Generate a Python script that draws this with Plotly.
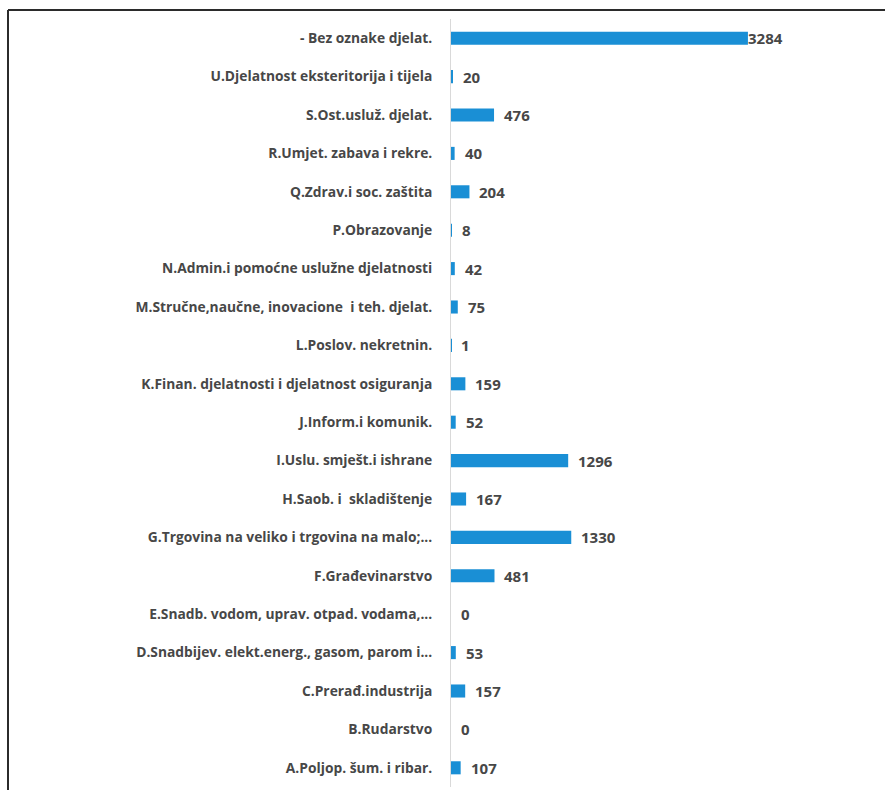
import plotly.graph_objects as go

# Activity sectors (top to bottom as shown) and the number of entities in each
categories = [
    "- Bez oznake djelat.",
    "U.Djelatnost eksteritorija i tijela",
    "S.Ost.usluž. djelat.",
    "R.Umjet. zabava i rekre.",
    "Q.Zdrav.i soc. zaštita",
    "P.Obrazovanje",
    "N.Admin.i pomoćne uslužne djelatnosti",
    "M.Stručne,naučne, inovacione  i teh. djelat.",
    "L.Poslov. nekretnin.",
    "K.Finan. djelatnosti i djelatnost osiguranja",
    "J.Inform.i komunik.",
    "I.Uslu. smješt.i ishrane",
    "H.Saob. i  skladištenje",
    "G.Trgovina na veliko i trgovina na malo;...",
    "F.Građevinarstvo",
    "E.Snadb. vodom, uprav. otpad. vodama,...",
    "D.Snadbijev. elekt.energ., gasom, parom i...",
    "C.Prerađ.industrija",
    "B.Rudarstvo",
    "A.Poljop. šum. i ribar.",
]
values = [3284, 20, 476, 40, 204, 8, 42, 75, 1, 159, 52, 1296, 167, 1330, 481, 0, 53, 157, 0, 107]

BAR_COLOR = "#1a8fd5"
TEXT_COLOR = "#474747"
FONT = "Open Sans"

# Plot area geometry (pixels)
W, H = 885, 790
ML, MR, MT, MB = 451, 100, 19, 3
plot_w = W - ML - MR
plot_h = H - MT - MB
x_max = 3694

fig = go.Figure(
    go.Bar(
        x=values,
        y=categories,
        orientation="h",
        marker=dict(color=BAR_COLOR, line=dict(width=0)),
        width=0.34,
        hoverinfo="x+y",
    )
)

# Value labels beside each bar
for cat, val in zip(categories, values):
    fig.add_annotation(
        x=val, y=cat, xref="x", yref="y",
        text=str(val), showarrow=False,
        xanchor="left", yanchor="middle", xshift=8 if val < 3000 else -2,
        font=dict(family=FONT, size=15, color=TEXT_COLOR, weight="bold"),
    )

# Outer frame (top and left edges)
def px_to_paper_x(px):
    return (px - ML) / plot_w

def px_to_paper_y(py):
    return (H - MB - py) / plot_h

frame = dict(color="#2b2b2b", width=2)
fig.add_shape(type="line", xref="paper", yref="paper",
              x0=px_to_paper_x(8), x1=px_to_paper_x(W + 5),
              y0=px_to_paper_y(10), y1=px_to_paper_y(10), line=frame)
fig.add_shape(type="line", xref="paper", yref="paper",
              x0=px_to_paper_x(8), x1=px_to_paper_x(8),
              y0=px_to_paper_y(10), y1=px_to_paper_y(H + 5), line=frame)

fig.update_layout(
    width=W, height=H,
    margin=dict(l=ML, r=MR, t=MT, b=MB),
    paper_bgcolor="white",
    plot_bgcolor="white",
    showlegend=False,
    font=dict(family=FONT, color=TEXT_COLOR),
)
fig.update_xaxes(
    range=[0, x_max], visible=False, showgrid=False, zeroline=False, fixedrange=True,
)
fig.update_yaxes(
    categoryorder="array",
    categoryarray=categories[::-1],
    autorange=False,
    range=[-0.5, len(categories) - 0.5],
    showgrid=False,
    zeroline=False,
    showline=True,
    linecolor="#d9d9d9",
    linewidth=1,
    ticks="",
    ticklabelstandoff=15,
    tickfont=dict(family=FONT, size=13.8, color=TEXT_COLOR, weight="bold"),
)

fig.write_html("out.html")
